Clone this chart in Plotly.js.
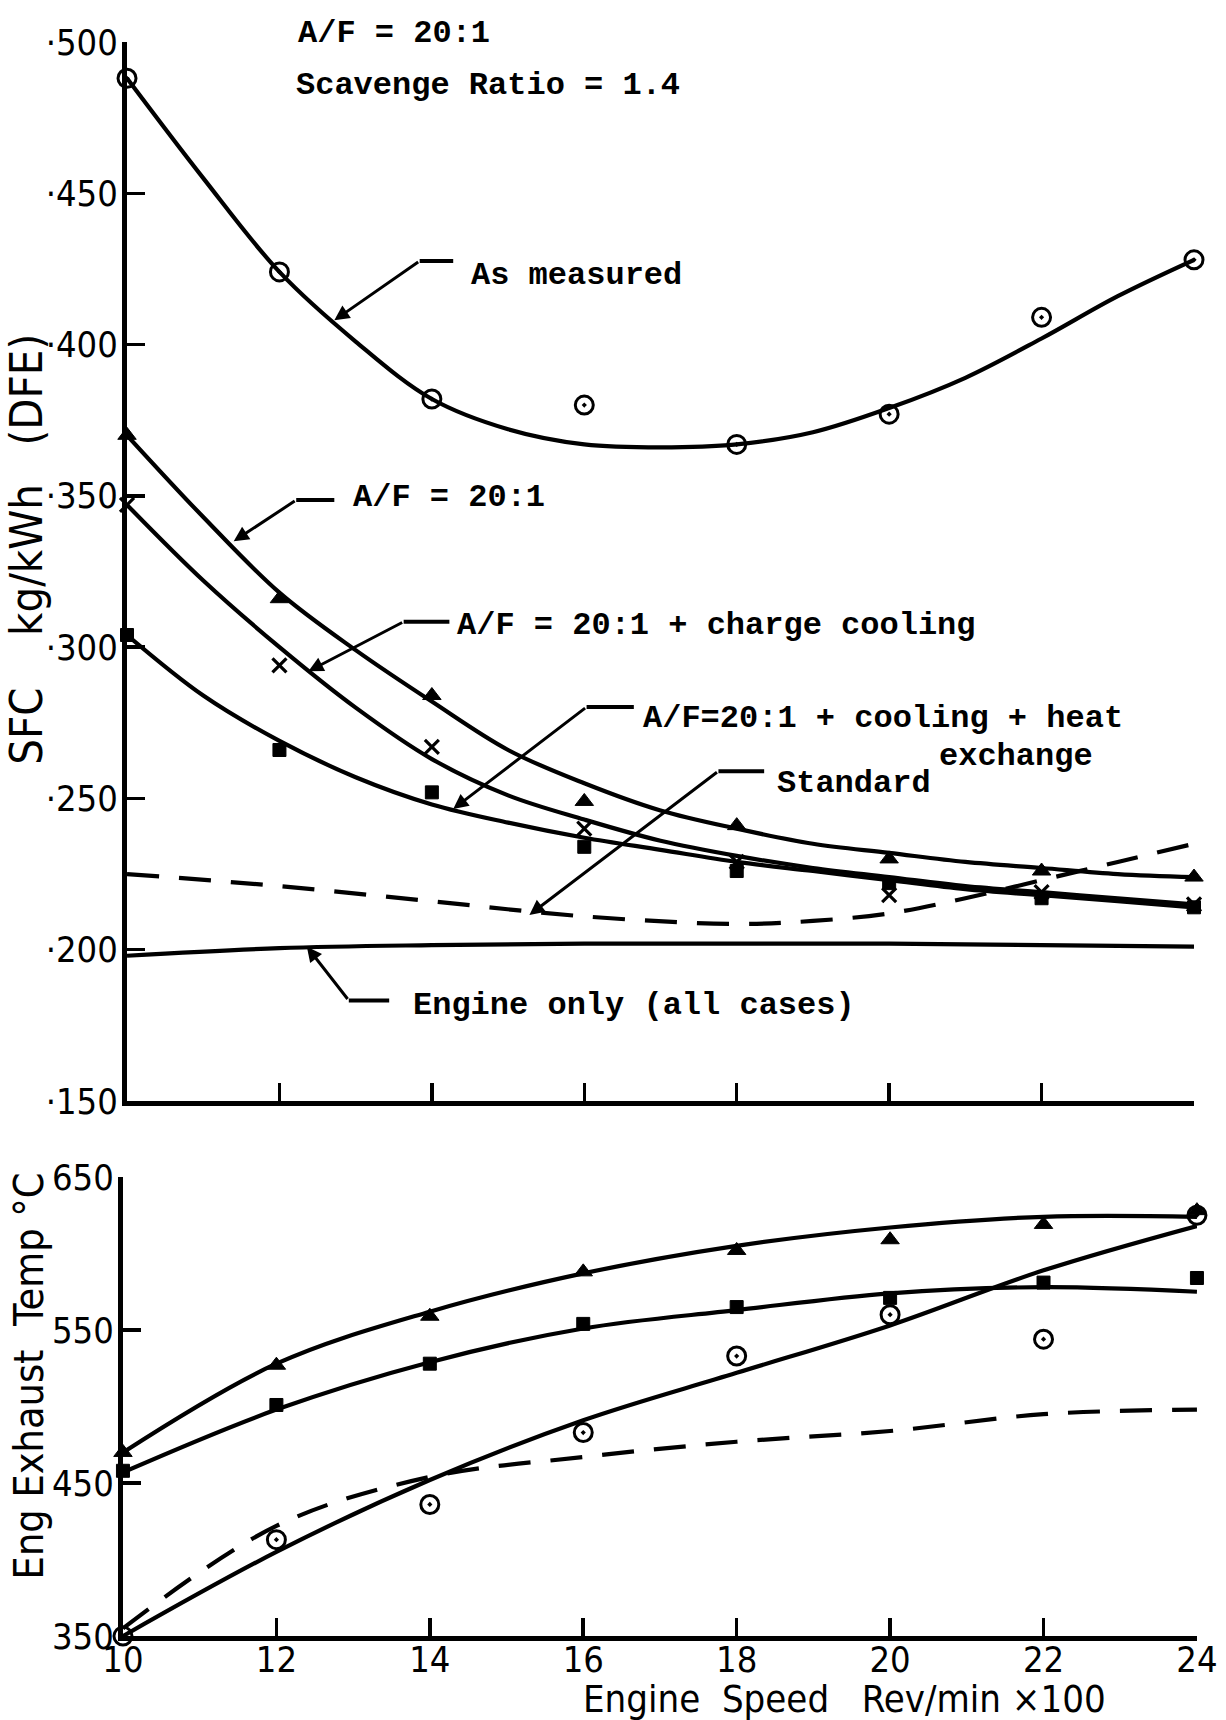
<!DOCTYPE html>
<html>
<head>
<meta charset="utf-8">
<script src="https://cdn.plot.ly/plotly-3.0.1.min.js"></script>
<style>html,body{margin:0;padding:0;background:#fff;}#chart{width:1226px;height:1720px;}</style>
</head>
<body>
<div id="chart"></div>
<script>
// ---------- DATA ----------
const speed = [10, 12, 14, 16, 18, 20, 22, 24];           // Engine speed, rev/min x100

// Upper panel: SFC kg/kWh (DFE) – measured points
const sfcMeasuredPts = [488, 424, 382, 380, 367, 377, 409, 428];
const sfcAFPts       = [370, 316, 284, 249, 241, 230, 226, 224];
const sfcCoolPts     = [347, 294, 267, 240, 229, 218, 219, 215];
const sfcHeatPts     = [304, 266, 252, 234, 226, 222, 217, 214];

// Upper panel: fitted curves
const curveX           = [10, 11, 12, 13, 14, 15, 16, 17, 18, 19, 20, 21, 22, 23, 24];
const sfcMeasuredCurve = [488, 455, 424, 401, 382, 372, 367, 366, 367, 371, 379, 389, 402, 416, 428];
const sfcAFCurve       = [370, 343, 318, 299, 282, 266, 255, 246, 240, 235, 232, 229, 227, 225, 224];
const sfcCoolCurve     = [347, 322, 300, 280, 263, 251, 243, 236, 231, 227, 224, 221, 219, 217, 215];
const sfcHeatCurve     = [304, 284, 269, 257, 248, 242, 237, 233, 229, 226, 223, 220, 218, 216, 214];
const sfcStandardX     = [10, 12, 14, 16, 18, 19, 20, 21, 22, 23, 24];
const sfcStandard      = [225, 221, 216, 211, 208.5, 209.5, 212, 217, 223, 229, 235];
const sfcEngineOnly    = [198, 200.5, 201.5, 202, 202, 202, 201.5, 201];

// Lower panel: engine exhaust temperature °C
const tempTriPts   = [470, 527, 559, 588, 602, 609, 619, 628];
const tempSqPts    = [458, 501, 528, 554, 565, 571, 581, 584];
const tempCircPts  = [350, 413, 436, 483, 533, 560, 544, 625];
const tempTriCurve  = [470, 528, 562, 587, 605, 617, 624, 624];
const tempSqCurve   = [457, 498, 529, 551, 563, 574, 578, 575];
const tempCircCurve = [350, 405, 452, 491, 522, 553, 589, 618];
const tempStandard  = [355, 422, 454, 467, 477, 484, 495, 498];

// Tick labels
const sfcTicks      = [150, 200, 250, 300, 350, 400, 450, 500];
const sfcTickText   = ['·150', '·200', '·250', '·300', '·350', '·400', '·450', '·500'];
const tempTicks     = [350, 450, 550, 650];
const tempTickText  = ['350', '450', '550', '650'];
const speedTickText = ['10', '12', '14', '16', '18', '20', '22', '24'];

// Annotation texts
const txtTop1 = 'A/F = 20:1';
const txtTop2 = 'Scavenge Ratio = 1.4';
const lblMeasured = 'As measured';
const lblAF = 'A/F = 20:1';
const lblCool = 'A/F = 20:1 + charge cooling';
const lblHeat1 = 'A/F=20:1 + cooling + heat';
const lblHeat2 = 'exchange';
const lblStandard = 'Standard';
const lblEngine = 'Engine only (all cases)';
const yTitleTop = 'SFC\u00a0\u00a0\u00a0\u00a0kg/kWh\u00a0\u00a0\u00a0(DFE)';
const yTitleBottom = 'Eng\u00a0Exhaust\u00a0\u00a0Temp\u00a0°C';
const xTitle = 'Engine\u00a0\u00a0Speed\u00a0\u00a0\u00a0Rev/min\u00a0×100';

// ---------- STYLE ----------
const K = '#000';
const LW = 4.2;
const mono = 'Liberation Mono, Courier New, monospace';
const sans = 'DejaVu Sans Condensed, Liberation Sans Narrow, DejaVu Sans, sans-serif';

function curve(x, y, xa, ya, dash) {
  return {x: x, y: y, xaxis: xa, yaxis: ya, mode: 'lines', type: 'scatter',
    line: {color: K, width: LW, shape: 'spline', smoothing: 1, dash: dash || 'solid'},
    hoverinfo: 'skip', showlegend: false, cliponaxis: false};
}
function pts(x, y, xa, ya, symbol, size, lw) {
  return {x: x, y: y, xaxis: xa, yaxis: ya, mode: 'markers', type: 'scatter',
    marker: {symbol: symbol, size: size, color: K, line: {color: K, width: lw}},
    showlegend: false, cliponaxis: false};
}

const traces = [
  curve(curveX, sfcMeasuredCurve, 'x', 'y'),
  curve(curveX, sfcAFCurve, 'x', 'y'),
  curve(curveX, sfcCoolCurve, 'x', 'y'),
  curve(curveX, sfcHeatCurve, 'x', 'y'),
  curve(sfcStandardX, sfcStandard, 'x', 'y', '32px,20px'),
  curve(speed, sfcEngineOnly, 'x', 'y'),
  pts(speed, sfcMeasuredPts, 'x', 'y', 'circle-open-dot', 18, 3),
  pts(speed, sfcAFPts, 'x', 'y', 'triangle-up', 16, 1),
  pts(speed, sfcCoolPts, 'x', 'y', 'x-thin-open', 14, 3.2),
  pts(speed, sfcHeatPts, 'x', 'y', 'square', 13, 1),

  curve(speed, tempTriCurve, 'x2', 'y2'),
  curve(speed, tempSqCurve, 'x2', 'y2'),
  curve(speed, tempCircCurve, 'x2', 'y2'),
  curve(speed, tempStandard, 'x2', 'y2', '32px,20px'),
  pts(speed, tempTriPts, 'x2', 'y2', 'triangle-up', 16, 1),
  pts(speed, tempSqPts, 'x2', 'y2', 'square', 13, 1),
  pts(speed, tempCircPts, 'x2', 'y2', 'circle-open-dot', 18, 3)
];

const axisCommon = {
  showgrid: false, zeroline: false, showline: true, linecolor: K, linewidth: 5,
  ticks: 'inside', ticklen: 18, tickwidth: 3.5, tickcolor: K, fixedrange: true,
  tickfont: {family: sans, size: 36, color: K}
};

function callout(tip, elbow, end) {
  return {
    ann: {x: tip[0], y: tip[1], ax: elbow[0], ay: elbow[1], xref: 'x', yref: 'y', axref: 'x', ayref: 'y',
      text: '', showarrow: true, arrowhead: 2, arrowsize: 1, arrowwidth: 3, arrowcolor: K, standoff: 0, startstandoff: 0},
    shape: {type: 'line', xref: 'x', yref: 'y', x0: elbow[0], y0: elbow[1], x1: end[0], y1: end[1], line: {color: K, width: 4}}
  };
}
const callouts = [
  callout([12.72, 408], [13.84, 427.6], [14.28, 427.6]),
  callout([11.40, 335], [12.22, 348.6], [12.72, 348.6]),
  callout([12.38, 292], [13.63, 308.4], [14.23, 308.4]),
  callout([14.28, 246.5], [16.03, 280.2], [16.65, 280.2]),
  callout([15.28, 211.5], [17.76, 259], [18.36, 259]),
  callout([12.36, 201], [12.91, 183.2], [13.44, 183.2])
];

function label(text, x, y) {
  return {x: x, y: y, xref: 'x', yref: 'y', text: text, showarrow: false, xanchor: 'left', yanchor: 'middle',
    font: {family: mono, size: 32, color: K, weight: 'bold'}};
}

const annotations = [
  {xref: 'paper', yref: 'paper', x: 0.2414, y: 0.9808, text: txtTop1, showarrow: false, xanchor: 'left', yanchor: 'middle',
    font: {family: mono, size: 32, color: K, weight: 'bold'}},
  label(txtTop2, 12.19, 485.6),
  label(lblMeasured, 14.49, 422.9),
  label(lblAF, 12.94, 349.4),
  label(lblCool, 14.30, 307),
  label(lblHeat1, 16.75, 276.5),
  label(lblHeat2, 20.63, 264),
  label(lblStandard, 18.5, 255),
  label(lblEngine, 13.73, 181.6),
  {xref: 'paper', yref: 'paper', x: 0.022, y: 0.681, text: yTitleTop, textangle: -90, showarrow: false,
    xanchor: 'center', yanchor: 'middle', font: {family: sans, size: 45, color: K}},
  {xref: 'paper', yref: 'paper', x: 0.024, y: 0.200, text: yTitleBottom, textangle: -90, showarrow: false,
    xanchor: 'center', yanchor: 'middle', font: {family: sans, size: 41, color: K}},
  {xref: 'paper', yref: 'paper', x: 0.689, y: 0.0120, text: xTitle, showarrow: false,
    xanchor: 'center', yanchor: 'middle', font: {family: sans, size: 38, color: K}}
].concat(callouts.map(c => c.ann));

const layout = {
  width: 1226, height: 1720,
  margin: {l: 0, r: 0, t: 0, b: 0},
  paper_bgcolor: '#fff', plot_bgcolor: 'rgba(0,0,0,0)',
  showlegend: false,
  xaxis: Object.assign({}, axisCommon, {domain: [0.1036, 0.9739], range: [10, 24], anchor: 'y',
    tickvals: speed, showticklabels: false}),
  yaxis: Object.assign({}, axisCommon, {domain: [0.3599, 0.9756], range: [150, 500], anchor: 'x',
    tickvals: sfcTicks, ticktext: sfcTickText, ticklabelstandoff: -3}),
  xaxis2: Object.assign({}, axisCommon, {domain: [0.1003, 0.9763], range: [10, 24], anchor: 'y2',
    tickvals: speed, ticktext: speedTickText, ticklabelstandoff: -12}),
  yaxis2: Object.assign({}, axisCommon, {domain: [0.0488, 0.3157], range: [350, 650], anchor: 'x2',
    tickvals: tempTicks, ticktext: tempTickText, ticklabelstandoff: -3}),
  annotations: annotations,
  shapes: callouts.map(c => c.shape)
};

Plotly.newPlot('chart', traces, layout, {displayModeBar: false, staticPlot: true});
</script>
</body>
</html>
